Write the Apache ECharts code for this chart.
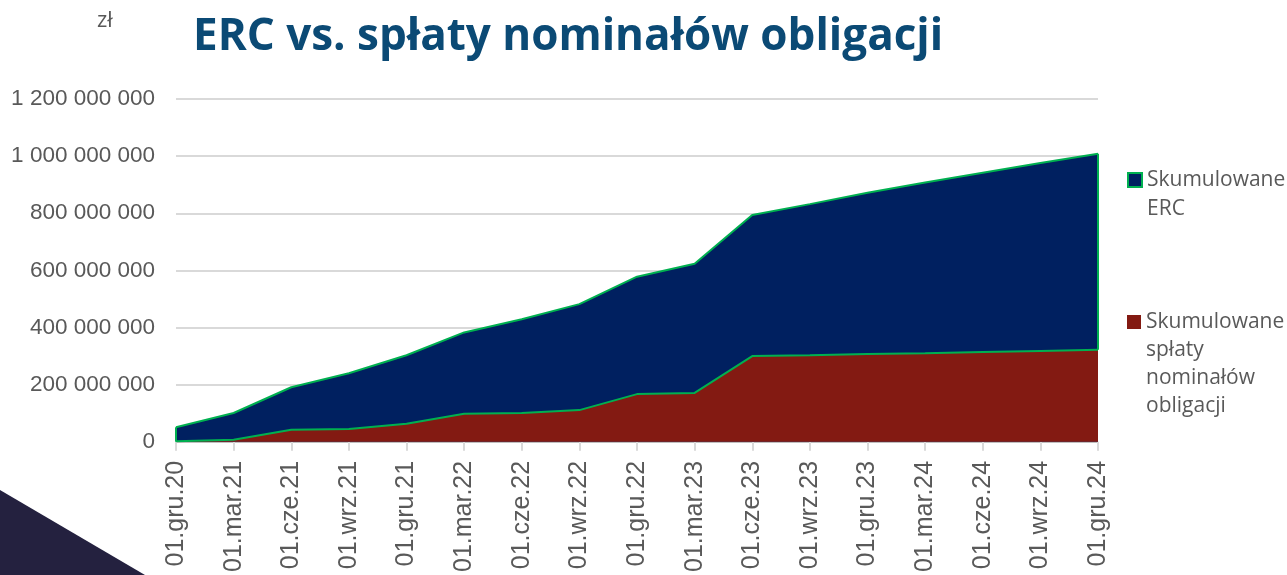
<!DOCTYPE html>
<html>
<head>
<meta charset="utf-8">
<script src="https://cdn.jsdelivr.net/npm/echarts@6/dist/echarts.min.js"></script>
<style>html,body{margin:0;padding:0;background:#fff}#c{width:1287px;height:575px}</style>
</head>
<body>
<div id="c"></div>
<script>
const categories = ['01.gru.20','01.mar.21','01.cze.21','01.wrz.21','01.gru.21','01.mar.22','01.cze.22','01.wrz.22','01.gru.22','01.mar.23','01.cze.23','01.wrz.23','01.gru.23','01.mar.24','01.cze.24','01.wrz.24','01.gru.24'];
const ercCumulative = [51e6,101e6,191e6,240e6,303e6,383e6,429e6,482e6,578e6,623e6,794e6,832e6,872e6,908e6,942e6,976e6,1008e6];
const bondRepayments = [2e6,7e6,42e6,45e6,63e6,98e6,101e6,111e6,167e6,171e6,300e6,303e6,307e6,310e6,314e6,318e6,322e6];
const yTicks = [0,200e6,400e6,600e6,800e6,1000e6,1200e6];
const seriesNames = ['Skumulowane ERC','Skumulowane spłaty nominałów obligacji'];

const FONT = '"Open Sans", "Noto Sans", sans-serif';
const AXFONT = '"Liberation Sans", Arial, sans-serif';
const fmt = v => String(Math.round(v)).replace(/\B(?=(\d{3})+(?!\d))/g, ' ');
const chart = echarts.init(document.getElementById('c'));
const legendText = {fontFamily: FONT, fontSize: 21, color: '#595959'};
const last = categories.length - 1;
chart.setOption({
  animation: false,
  title: [
    {
      text: 'ERC vs. spłaty nominałów obligacji',
      left: 193, top: 9, padding: 0,
      textStyle: {fontFamily: FONT, fontSize: 44, fontWeight: 'bold', color: '#0B4A75', lineHeight: 56}
    },
    {
      text: 'zł', left: 97, top: 8, padding: 0,
      textStyle: {fontFamily: FONT, fontSize: 22, fontWeight: 'normal', color: '#595959', lineHeight: 26}
    }
  ],
  graphic: [
    {type: 'polygon', shape: {points: [[0,490],[145,575],[0,575]]}, style: {fill: '#24213F'}, z: 0}
  ],
  legend: [
    {
      data: [{name: seriesNames[0], itemStyle: {color: '#002060', borderColor: '#00B050', borderWidth: 2}}],
      left: 1127, top: 149, padding: 0, orient: 'vertical', itemWidth: 14, itemHeight: 14, itemGap: 6,
      icon: 'rect',
      formatter: () => '{s| }\n{a|Skumulowane}\n{a|ERC}',
      textStyle: Object.assign({rich: {s: {lineHeight: 29, fontSize: 4}, a: Object.assign({lineHeight: 29}, legendText)}}, legendText)
    },
    {
      data: [{name: seriesNames[1], itemStyle: {color: '#831A12', borderWidth: 0}}],
      left: 1127, top: 264, padding: 0, orient: 'vertical', itemWidth: 14, itemHeight: 14,
      icon: 'rect',
      formatter: () => '{s| }\n{a|Skumulowane}\n{a|spłaty}\n{a|nominałów}\n{a|obligacji}',
      textStyle: Object.assign({rich: {s: {lineHeight: 84, fontSize: 4}, a: Object.assign({lineHeight: 28}, legendText)}}, legendText)
    }
  ],
  grid: {left: 176, right: 189, top: 99, bottom: 132, containLabel: false},
  xAxis: {
    type: 'category', data: categories, boundaryGap: false,
    axisLine: {lineStyle: {color: '#BFBFBF', width: 1}},
    axisTick: {show: true, alignWithLabel: true, length: 9, lineStyle: {color: '#D9D9D9', width: 2}},
    axisLabel: {rotate: 90, interval: 0, fontFamily: AXFONT, fontSize: 25, color: '#595959', margin: 19}
  },
  yAxis: {
    type: 'value', min: 0, max: 1200e6, interval: 200e6,
    axisLine: {show: false}, axisTick: {show: false},
    splitLine: {lineStyle: {color: '#D9D9D9', width: 2}},
    axisLabel: {formatter: v => yTicks.includes(v) ? fmt(v) : '', fontFamily: AXFONT, fontSize: 22.5, color: '#595959', margin: 21}
  },
  series: [
    {
      name: seriesNames[0], type: 'line', data: ercCumulative, symbol: 'none',
      lineStyle: {color: '#00B050', width: 2}, itemStyle: {color: '#002060'},
      areaStyle: {color: '#002060', opacity: 1}, z: 2,
      markLine: {
        silent: true, symbol: 'none', label: {show: false},
        lineStyle: {color: '#00B050', width: 2, type: 'solid'},
        data: [
          [{coord: [0, 0]}, {coord: [0, ercCumulative[0]]}],
          [{coord: [last, bondRepayments[last]]}, {coord: [last, ercCumulative[last]]}]
        ]
      }
    },
    {
      name: seriesNames[1], type: 'line', data: bondRepayments, symbol: 'none',
      lineStyle: {color: '#00B050', width: 2}, itemStyle: {color: '#831A12'},
      areaStyle: {color: '#831A12', opacity: 1}, z: 3
    }
  ]
});
</script>
</body>
</html>
